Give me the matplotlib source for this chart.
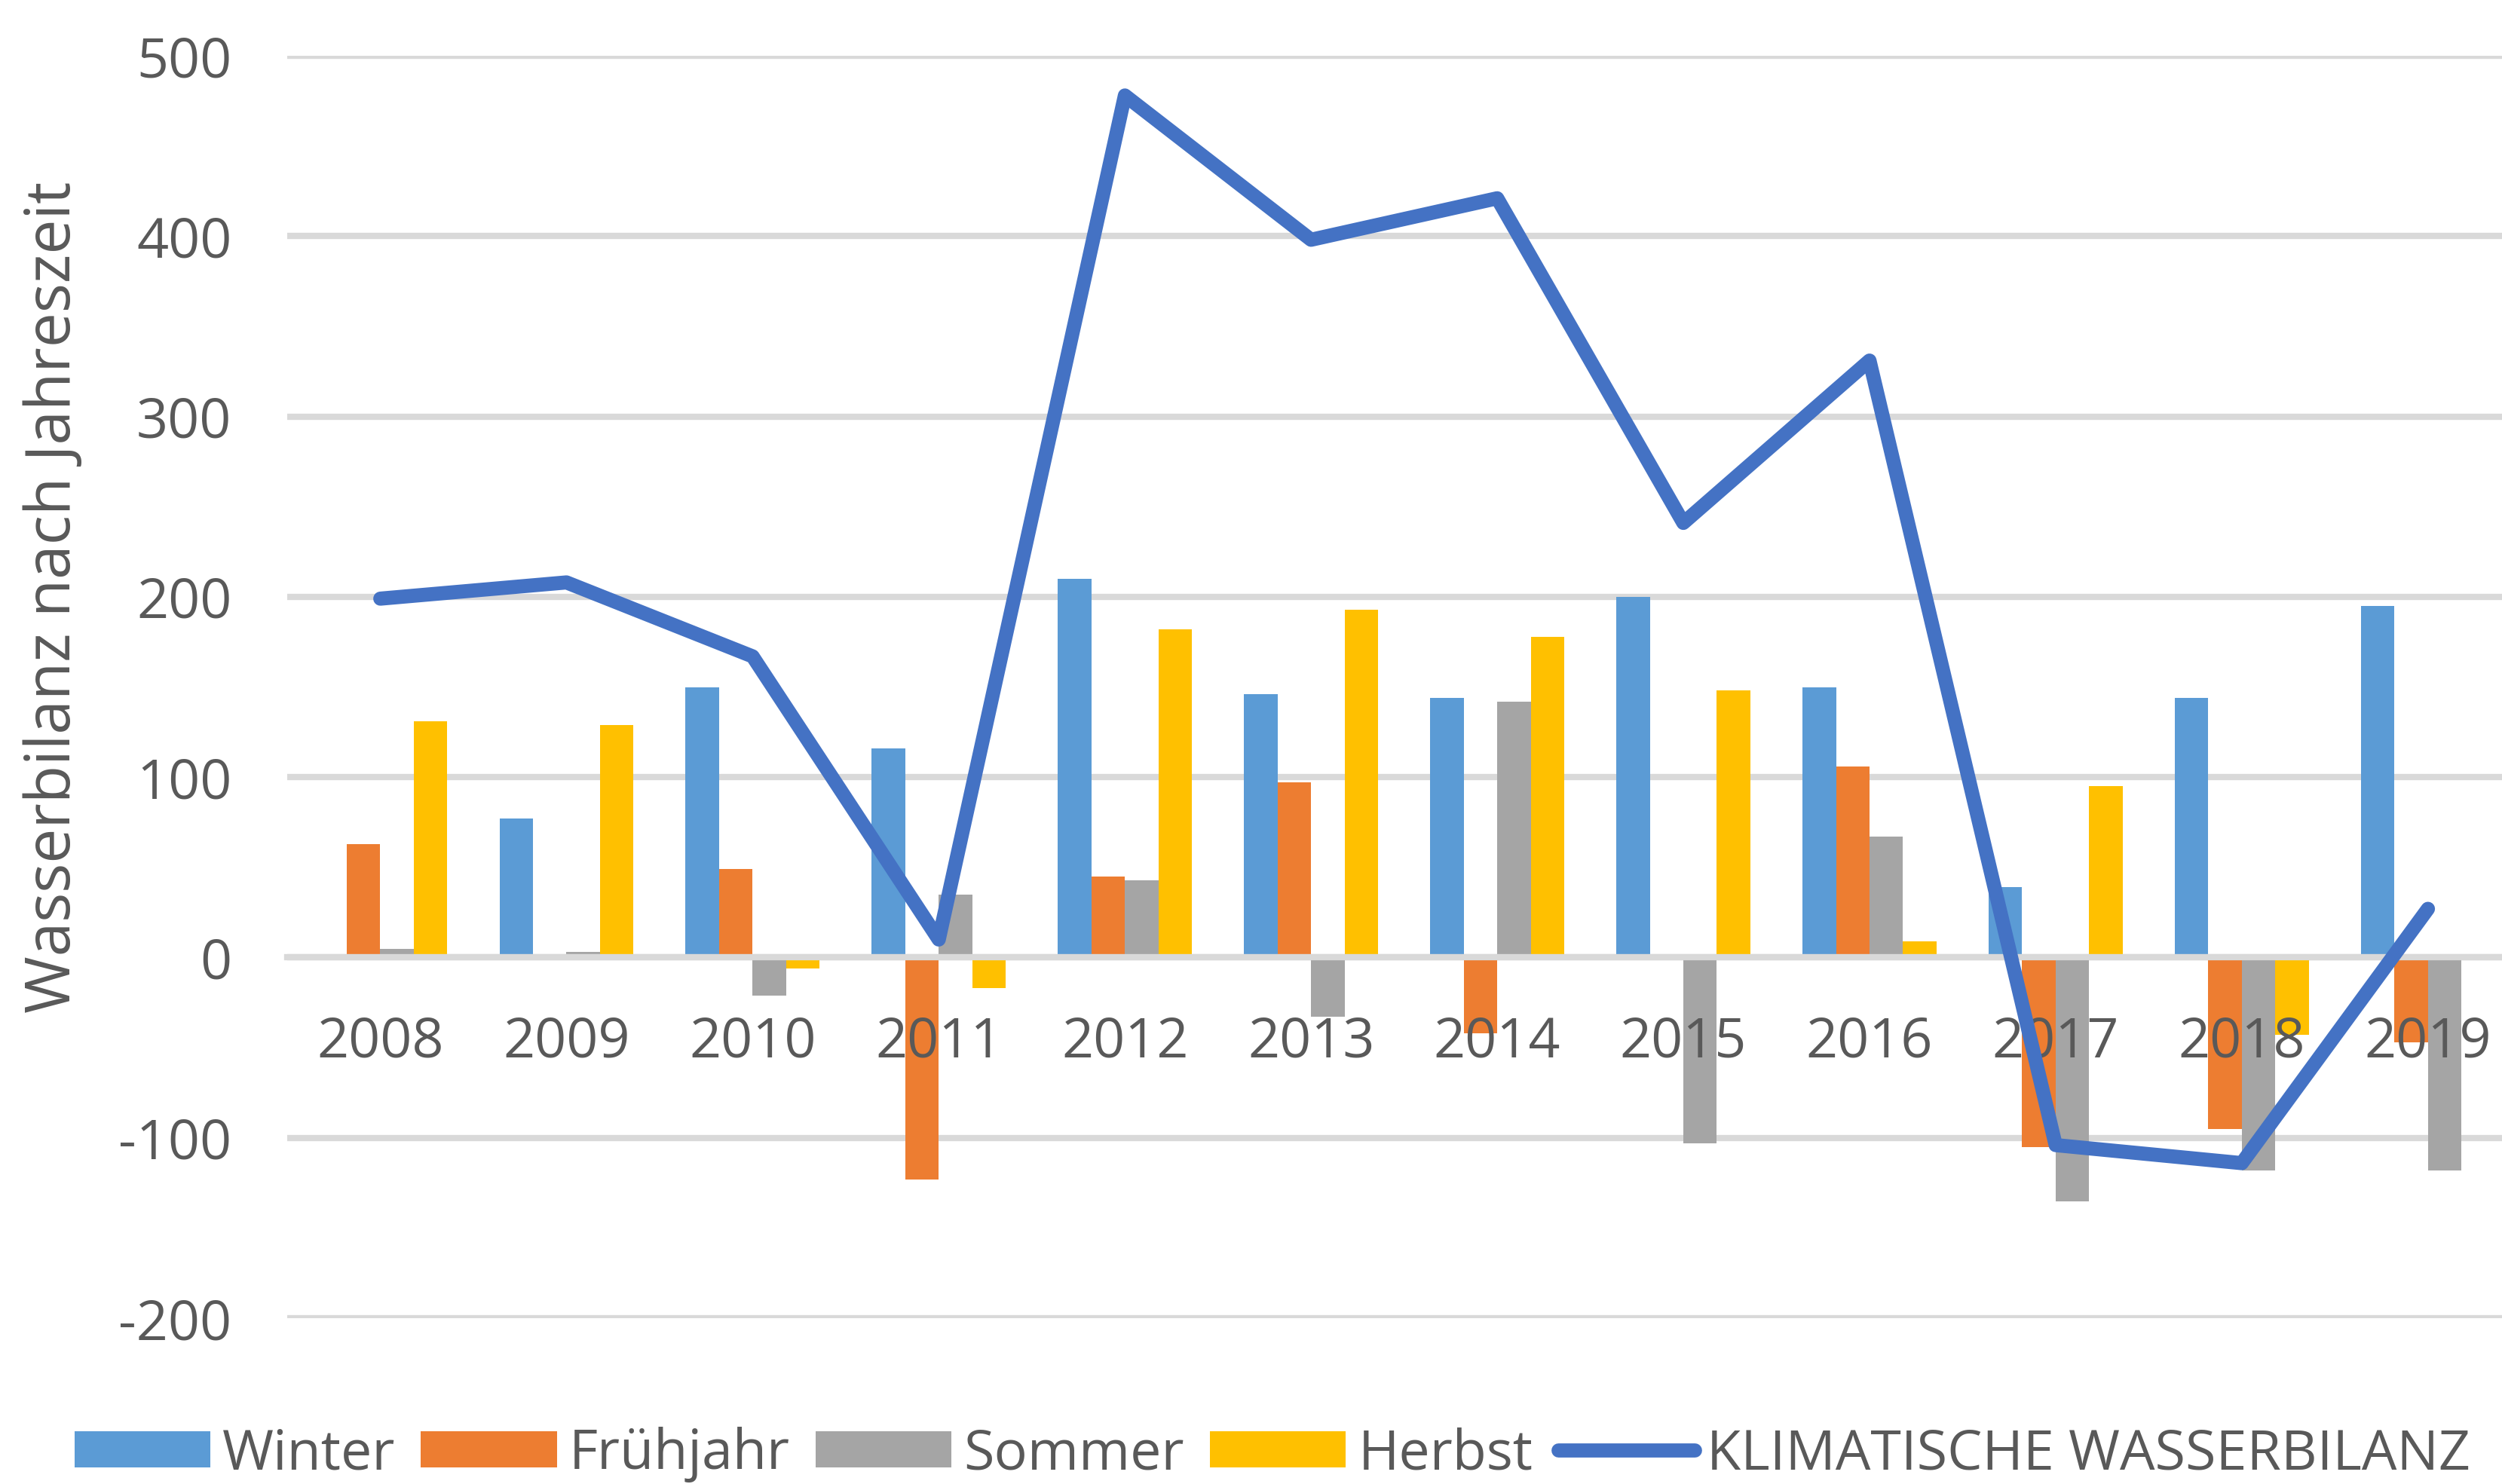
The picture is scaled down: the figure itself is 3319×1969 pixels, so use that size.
import matplotlib
matplotlib.use("Agg")
import matplotlib.pyplot as plt
import numpy as np

# ── Data ──────────────────────────────────────────────────────────────────────
years     = ["2008", "2009", "2010", "2011", "2012", "2013",
             "2014", "2015", "2016", "2017", "2018", "2019"]
winter    = [0, 77, 150, 116, 210, 146, 144, 200, 150, 39, 144, 195]
fruehjahr = [63, 0, 49, -123, 45, 97, -42, 0, 106, -105, -95, -47]
sommer    = [5, 3, -21, 35, 43, -33, 142, -103, 67, -135, -118, -118]
herbst    = [131, 129, -6, -17, 182, 193, 178, 148, 9, 95, -43, 0]
bilanz    = [199, 208, 167, 10, 478, 398, 421, 241, 331, -104, -114, 27]

series_names  = ["Winter", "Frühjahr", "Sommer", "Herbst"]
series_vals   = [winter, fruehjahr, sommer, herbst]
series_colors = ["#5B9BD5", "#ED7D31", "#A5A5A5", "#FFC000"]
C_LINE = "#4472C4"
C_GRID = "#D9D9D9"
C_TEXT = "#595959"

plt.rcParams.update({
    "font.family": ["Open Sans", "DejaVu Sans"],
    "axes.unicode_minus": False,
    "text.color": C_TEXT,
})

fig = plt.figure(figsize=(33.19, 19.69), dpi=100)
ax = fig.add_axes([0.1148, 0.1117, 1.0076 - 0.1148, 0.9624 - 0.1117])

x = np.arange(len(years))
w = 0.18
handles = []
for i, (name, vals, col) in enumerate(zip(series_names, series_vals, series_colors)):
    b = ax.bar(x + (i - 1.5) * w, vals, width=w, color=col, label=name, zorder=1)
    handles.append(b)

ln, = ax.plot(x, bilanz, color=C_LINE, linewidth=13.5, solid_joinstyle="round",
              solid_capstyle="round", label="KLIMATISCHE WASSERBILANZ", zorder=3)
handles.append(ln)

ax.set_xlim(-0.5, len(years) - 0.5)
ax.set_ylim(-200, 500)
ax.set_yticks(range(-200, 501, 100))
ax.set_xticks(x)
ax.set_xticklabels(years)

# grid behind the bars, category labels above the bars
ax.set_axisbelow(True)
ax.yaxis.grid(True, color=C_GRID, linewidth=6)
ax.xaxis.set_zorder(1.5)

for s in ["top", "right", "left"]:
    ax.spines[s].set_visible(False)
ax.spines["bottom"].set_position(("data", 0))
ax.spines["bottom"].set_color(C_GRID)
ax.spines["bottom"].set_linewidth(6)
ax.spines["bottom"].set_zorder(2)

ax.tick_params(axis="both", length=0, labelsize=53, labelcolor=C_TEXT)
ax.tick_params(axis="y", pad=53)
ax.tick_params(axis="x", pad=55)

fig.text(72 / 3319, 1 - 792 / 1969, "Wasserbilanz nach Jahreszeit",
         rotation=90, ha="center", va="center", fontsize=59, color=C_TEXT)

fig.legend(handles=handles, labels=[h.get_label() for h in handles],
           loc="center", bbox_to_anchor=(0.5085, 0.0198), ncol=5, frameon=False,
           fontsize=53, handlelength=2.45, handleheight=0.61, handletextpad=0.22,
           columnspacing=0.46, borderpad=0, labelcolor=C_TEXT)

fig.savefig("out.png", dpi=100, facecolor="white")
